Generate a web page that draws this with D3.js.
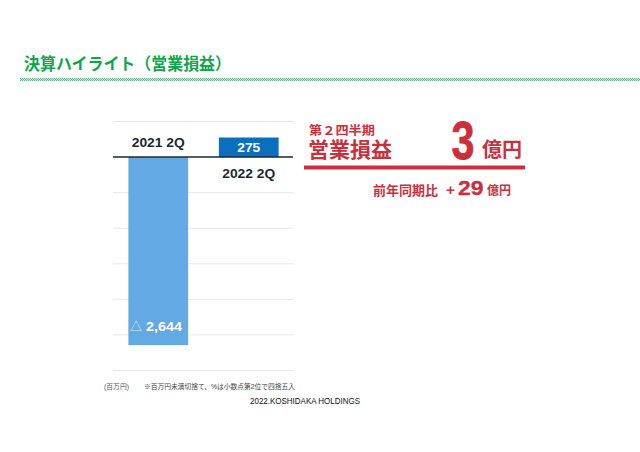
<!DOCTYPE html>
<html>
<head>
<meta charset="utf-8">
<script src="https://cdn.jsdelivr.net/npm/d3@7"></script>
<style>
  html, body { margin: 0; padding: 0; background: #fff; }
  svg { display: block; }
  text { font-family: "Liberation Sans", "Noto Sans CJK JP", sans-serif; }
</style>
</head>
<body>
<svg id="chart" width="640" height="452"></svg>
<script>
"use strict";

const categories = ['2021 2Q', '2022 2Q'];
const values = [-2644, 275];
const value_labels = ['2,644', '275'];
const grid_values = [500, -500, -1000, -1500, -2000, -2500, -3000];

const svg = d3.select('#chart');

const x = d3.scaleBand().domain(categories).range([113, 294]).paddingInner(0.34).paddingOuter(0.17);
const y = d3.scaleLinear().domain([500, -3000]).range([121.5, 370.5]);

const green = '#0fa64a';
const red = '#c9303c';
const dark = '#1c2733';

// small helper for text placed at a fixed spot, len stretches it to the reference width
const label = (tx, ty, size, weight, fill, str, len) => {
  const t = svg.append('text').attr('x', tx).attr('y', ty)
    .attr('font-size', size).attr('font-weight', weight).attr('fill', fill).text(str);
  if (len) t.attr('textLength', len).attr('lengthAdjust', 'spacingAndGlyphs');
  return t;
};

// title
label(24, 69.5, 16.5, 700, green, '決算ハイライト（営業損益）', 207);

// hatched rule under the title
const pat = svg.append('defs').append('pattern')
  .attr('id', 'hatch').attr('width', 2).attr('height', 2)
  .attr('patternUnits', 'userSpaceOnUse');
pat.append('rect').attr('width', 2).attr('height', 2).attr('fill', '#d5eedd');
pat.append('rect').attr('width', 1).attr('height', 1).attr('fill', '#55bd7c');
pat.append('rect').attr('x', 1).attr('y', 1).attr('width', 1).attr('height', 1).attr('fill', '#55bd7c');
svg.append('rect').attr('x', 20).attr('y', 78).attr('width', 620).attr('height', 3).attr('fill', 'url(#hatch)');

// gridlines
svg.selectAll('.grid').data(grid_values).join('line')
  .attr('class', 'grid')
  .attr('x1', 113).attr('x2', 294)
  .attr('y1', d => y(d)).attr('y2', d => y(d))
  .attr('stroke', '#e8e8e8').attr('stroke-width', 1);

// bars
svg.selectAll('.bar').data(values).join('rect')
  .attr('class', 'bar')
  .attr('x', (d, i) => x(categories[i]))
  .attr('width', x.bandwidth())
  .attr('y', d => y(Math.max(d, 0)))
  .attr('height', d => Math.abs(y(d) - y(0)))
  .attr('fill', d => d < 0 ? '#63a9e4' : '#0a6fbe');

// zero line
svg.append('line').attr('x1', 113).attr('x2', 293)
  .attr('y1', y(0)).attr('y2', y(0))
  .attr('stroke', dark).attr('stroke-width', 1.6);

// category labels, on the opposite side of the bar
svg.selectAll('.cat').data(categories).join('text')
  .attr('class', 'cat')
  .attr('x', d => x(d) + x.bandwidth() / 2)
  .attr('y', (d, i) => values[i] < 0 ? y(0) - 10.5 : y(0) + 21)
  .attr('text-anchor', 'middle')
  .attr('font-size', 12).attr('font-weight', 700).attr('fill', dark)
  .attr('textLength', 53).attr('lengthAdjust', 'spacingAndGlyphs')
  .text(d => d);

// value labels
svg.append('text').attr('x', x(categories[1]) + x.bandwidth() / 2).attr('y', y(values[1] / 2) + 4.5)
  .attr('text-anchor', 'middle').attr('font-size', 12).attr('font-weight', 700).attr('fill', '#fff')
  .attr('textLength', 23).attr('lengthAdjust', 'spacingAndGlyphs')
  .text(value_labels[1]);
label(130, 331, 12, 400, '#dcebf8', '△');
label(146, 331, 12.5, 700, '#fff', value_labels[0], 36);

// right hand callout
label(309, 135, 12, 700, red, '第２四半期', 66);
label(308, 157, 21, 700, red, '営業損益', 84);
label(451.5, 159, 54, 700, red, '3', 23).attr('stroke', red).attr('stroke-width', 0.8);
label(482, 157, 20, 700, red, '億円', 40);
svg.append('rect').attr('x', 304).attr('y', 165.5).attr('width', 221).attr('height', 4).attr('fill', red);
label(373, 195, 13, 700, red, '前年同期比', 65);
label(446, 195, 15, 700, red, '+', 9);
label(458, 195, 19.5, 700, red, '29', 25.5).attr('stroke', red).attr('stroke-width', 0.3);
label(487, 195, 12, 700, red, '億円', 24);

// footnotes
label(104, 389, 7, 400, '#555', '(百万円)', 25);
label(144, 389, 7, 400, '#444', '※百万円未満切捨て、%は小数点第2位で四捨五入', 151);
label(250, 404, 8.2, 400, '#111', '2022.KOSHIDAKA HOLDINGS', 110);
</script>
</body>
</html>
